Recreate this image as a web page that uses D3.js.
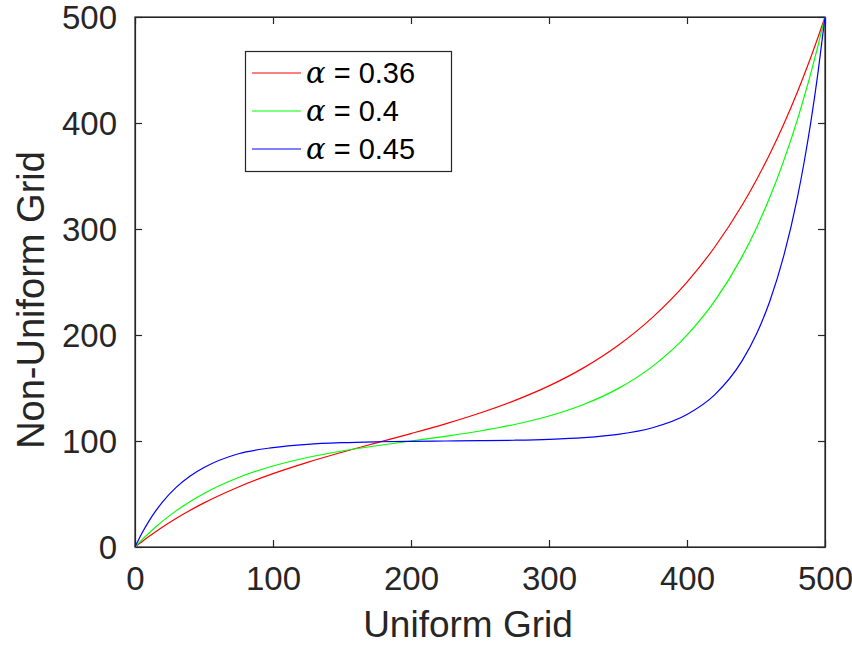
<!DOCTYPE html>
<html>
<head>
<meta charset="utf-8">
<script src="https://cdn.jsdelivr.net/npm/d3@7"></script>
<style>
  html, body { margin: 0; padding: 0; background: #fff; }
  svg { display: block; font-family: "Liberation Sans", Arial, Helvetica, sans-serif; }
</style>
</head>
<body>
<svg id="chart" width="852" height="645"></svg>
<script>
// ---- data ----
const xGrid = [0, 2.5, 5, 10, 15, 20, 30, 40, 50, 75, 100, 125, 150, 175, 200, 225, 250, 275, 300, 325, 350, 375, 400, 420, 440, 450, 460, 470, 480, 485, 490, 495, 500];
const alpha036 = [0, 2.55, 5.03, 9.87, 14.47, 18.87, 27.1, 34.65, 41.6, 56.66, 69.18, 79.87, 89.37, 98.25, 107.02, 116.2, 126.4, 138.1, 152.0, 169.0, 190.1, 216.6, 249.9, 282.8, 322.6, 345.6, 370.8, 398.6, 429.3, 445.7, 463.0, 481.1, 500];
const alpha040 = [0, 3.4, 6.73, 13.03, 18.9, 24.39, 34.31, 42.97, 50.53, 65.55, 76.42, 84.43, 90.56, 95.54, 100.0, 104.44, 109.42, 115.54, 123.54, 134.4, 149.4, 170.4, 199.9, 231.9, 274.2, 300.1, 329.9, 364.0, 403.2, 425.1, 448.3, 473.3, 500];
const alpha045 = [0, 6.7, 12.95, 24.2, 34.0, 42.6, 56.5, 67.0, 75.0, 88.0, 93.76, 96.89, 98.46, 99.27, 99.71, 100.0, 100.29, 100.73, 101.54, 103.1, 106.2, 112.5, 125.0, 143.5, 175.8, 200.0, 231.9, 274.1, 329.7, 363.9, 403.1, 448.2, 500];
const seriesNames = ["0.36", "0.4", "0.45"];
const seriesColors = ["#ff0000", "#00ff00", "#0000ff"];
const xTicks = [0, 100, 200, 300, 400, 500];
const yTicks = [0, 100, 200, 300, 400, 500];
const xLabel = "Uniform Grid";
const yLabel = "Non-Uniform Grid";

const seriesValues = [alpha036, alpha040, alpha045];

// ---- layout ----
const svg = d3.select("#chart");
const plotL = 135, plotR = 825, plotT = 17, plotB = 547;
const axisColor = "#262626";

const x = d3.scaleLinear().domain([0, 500]).range([plotL, plotR]);
const y = d3.scaleLinear().domain([0, 500]).range([plotB, plotT]);

svg.append("rect")
  .attr("x", plotL).attr("y", plotT)
  .attr("width", plotR - plotL).attr("height", plotB - plotT)
  .attr("fill", "none").attr("stroke", axisColor).attr("stroke-width", 1.2);

const tickLen = 7;
const gx = svg.append("g").attr("transform", `translate(0,${plotB})`)
  .call(d3.axisBottom(x).tickValues(xTicks).tickSizeInner(-tickLen).tickSizeOuter(0).tickPadding(20));
const gxt = svg.append("g").attr("transform", `translate(0,${plotT})`)
  .call(d3.axisTop(x).tickValues(xTicks).tickSizeInner(-tickLen).tickSizeOuter(0).tickFormat(""));
const gy = svg.append("g").attr("transform", `translate(${plotL},0)`)
  .call(d3.axisLeft(y).tickValues(yTicks).tickSizeInner(-tickLen).tickSizeOuter(0).tickPadding(18));
const gyr = svg.append("g").attr("transform", `translate(${plotR},0)`)
  .call(d3.axisRight(y).tickValues(yTicks).tickSizeInner(-tickLen).tickSizeOuter(0).tickFormat(""));

[gx, gxt, gy, gyr].forEach(g => {
  g.select(".domain").attr("stroke", axisColor).attr("stroke-width", 1.2);
  g.selectAll(".tick line").attr("stroke", axisColor).attr("stroke-width", 1.2);
  g.selectAll(".tick text")
    .attr("fill", "#262626")
    .style("font-size", "33px")
    .style("font-family", '"Liberation Sans", Arial, sans-serif');
});
gx.selectAll(".tick text").attr("dy", "0.71em");
gy.selectAll(".tick text").attr("dy", "0.36em");

const line = d3.line()
  .x((d, i) => x(xGrid[i]))
  .y(d => y(d))
  .curve(d3.curveMonotoneX);

seriesValues.forEach((vals, k) => {
  svg.append("path")
    .datum(vals)
    .attr("d", line)
    .attr("fill", "none")
    .attr("stroke", seriesColors[k])
    .attr("stroke-width", 1.2);
});

svg.append("text")
  .attr("x", (plotL + plotR) / 2 - 12).attr("y", 637)
  .attr("text-anchor", "middle")
  .attr("fill", "#262626")
  .style("font-size", "37px")
  .text(xLabel);

svg.append("text")
  .attr("transform", `translate(44,300) rotate(-90)`)
  .attr("text-anchor", "middle")
  .attr("fill", "#262626")
  .style("font-size", "38px")
  .text(yLabel);

const lg = svg.append("g");
lg.append("rect")
  .attr("x", 245.5).attr("y", 51.5).attr("width", 206).attr("height", 120)
  .attr("fill", "#fff").attr("stroke", axisColor).attr("stroke-width", 1.2);
const rowY = [73, 111, 149];
seriesNames.forEach((name, k) => {
  lg.append("line")
    .attr("x1", 252).attr("x2", 301)
    .attr("y1", rowY[k]).attr("y2", rowY[k])
    .attr("stroke", seriesColors[k]).attr("stroke-width", 1.2);
  const t = lg.append("text")
    .attr("x", 306).attr("y", rowY[k] + 10)
    .attr("fill", "#000")
    .style("font-size", "29px");
  t.append("tspan")
    .style("font-family", '"DejaVu Serif", "Liberation Serif", serif')
    .style("font-style", "italic")
    .text("\u03B1");
  t.append("tspan").text(" = " + name);
});
</script>
</body>
</html>
